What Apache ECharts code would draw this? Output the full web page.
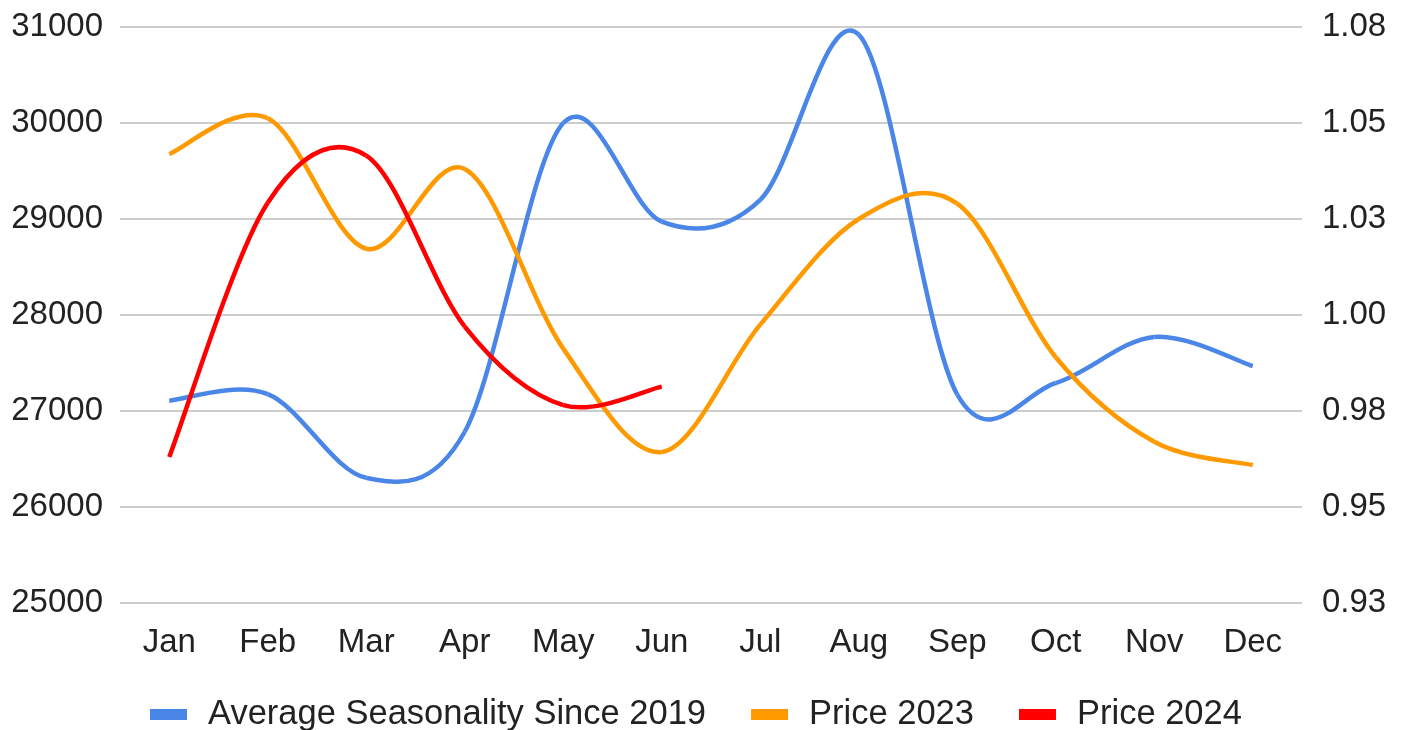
<!DOCTYPE html>
<html>
<head>
<meta charset="utf-8">
<script src="https://cdn.jsdelivr.net/npm/echarts@6/dist/echarts.min.js"></script>
<style>
html,body{margin:0;padding:0;background:#fff;}
#c{width:1406px;height:730px;}
</style>
</head>
<body>
<div id="c"></div>
<script>
var months = ['Jan','Feb','Mar','Apr','May','Jun','Jul','Aug','Sep','Oct','Nov','Dec'];
var seasonality = [0.9777, 0.9794, 0.9576, 0.9696, 1.0500, 1.0243, 1.0300, 1.0730, 0.9793, 0.9823, 0.9943, 0.9867];
var price2023 = [29677, 30050, 28690, 29520, 27650, 26573, 27900, 29000, 29160, 27560, 26680, 26437];
var price2024 = [26521, 29170, 29660, 27880, 27062, 27254];
var leftTicks = ['25000','26000','27000','28000','29000','30000','31000'];
var rightTicks = ['0.93','0.95','0.98','1.00','1.03','1.05','1.08'];

var seriesNames = ['Average Seasonality Since 2019', 'Price 2023', 'Price 2024'];
var seriesValues = [seasonality, price2023, price2024];
var seriesColors = ['#4a86e8', '#ff9900', '#ff0000'];
var seriesAxis = [1, 0, 0];

var font = 'Liberation Sans, Arial, sans-serif';

function makeRender(k) {
  return function (params, api) {
    var arr = seriesValues[k];
    var n = arr.length;
    var i = params.dataIndex;
    if (i >= n - 1) return null;
    function pt(j) {
      j = Math.max(0, Math.min(n - 1, j));
      return api.coord([j, arr[j]]);
    }
    var p0 = pt(i - 1), p1 = pt(i), p2 = pt(i + 1), p3 = pt(i + 2);
    return {
      type: 'bezierCurve',
      shape: {
        x1: p1[0], y1: p1[1], x2: p2[0], y2: p2[1],
        cpx1: p1[0] + (p2[0] - p0[0]) / 6, cpy1: p1[1] + (p2[1] - p0[1]) / 6,
        cpx2: p2[0] - (p3[0] - p1[0]) / 6, cpy2: p2[1] - (p3[1] - p1[1]) / 6
      },
      style: {stroke: seriesColors[k], lineWidth: 4.5, fill: null, lineCap: 'butt'}
    };
  };
}

var series = seriesNames.map(function (name, k) {
  return {
    name: name, type: 'custom', coordinateSystem: 'cartesian2d', yAxisIndex: seriesAxis[k],
    renderItem: makeRender(k),
    encode: {x: 0, y: 1},
    itemStyle: {color: seriesColors[k]},
    data: seriesValues[k].map(function (v, i) { return [i, v]; }),
    clip: false, silent: true
  };
});

var chart = echarts.init(document.getElementById('c'));
chart.setOption({
  animation: false,
  grid: {left: 120, right: 104, top: 27, bottom: 127, containLabel: false},
  legend: {
    top: 692, left: 145, icon: 'rect', itemWidth: 37, itemHeight: 11, itemGap: 45,
    textStyle: {fontSize: 34.5, color: '#222', fontFamily: font, padding: [0, 0, 0, 16]},
    data: seriesNames.map(function (n, k) { return {name: n, itemStyle: {color: seriesColors[k]}}; })
  },
  xAxis: {
    type: 'category', data: months, boundaryGap: true,
    axisLine: {show: false}, axisTick: {show: false},
    axisLabel: {fontSize: 33, color: '#222', margin: 23, fontFamily: font}
  },
  yAxis: [{
    type: 'value', min: 25000, max: 31000, interval: 1000, position: 'left',
    axisLine: {show: false}, axisTick: {show: false},
    splitLine: {lineStyle: {color: '#cccccc', width: 2}},
    axisLabel: {fontSize: 33, color: '#222', margin: 17, fontFamily: font,
      formatter: function (v, i) { return leftTicks[i]; }}
  }, {
    type: 'value', min: 0.925, max: 1.075, interval: 0.025, position: 'right',
    axisLine: {show: false}, axisTick: {show: false}, splitLine: {show: false},
    axisLabel: {fontSize: 33, color: '#222', margin: 20, fontFamily: font,
      formatter: function (v, i) { return rightTicks[i]; }}
  }],
  series: series
});
</script>
</body>
</html>
